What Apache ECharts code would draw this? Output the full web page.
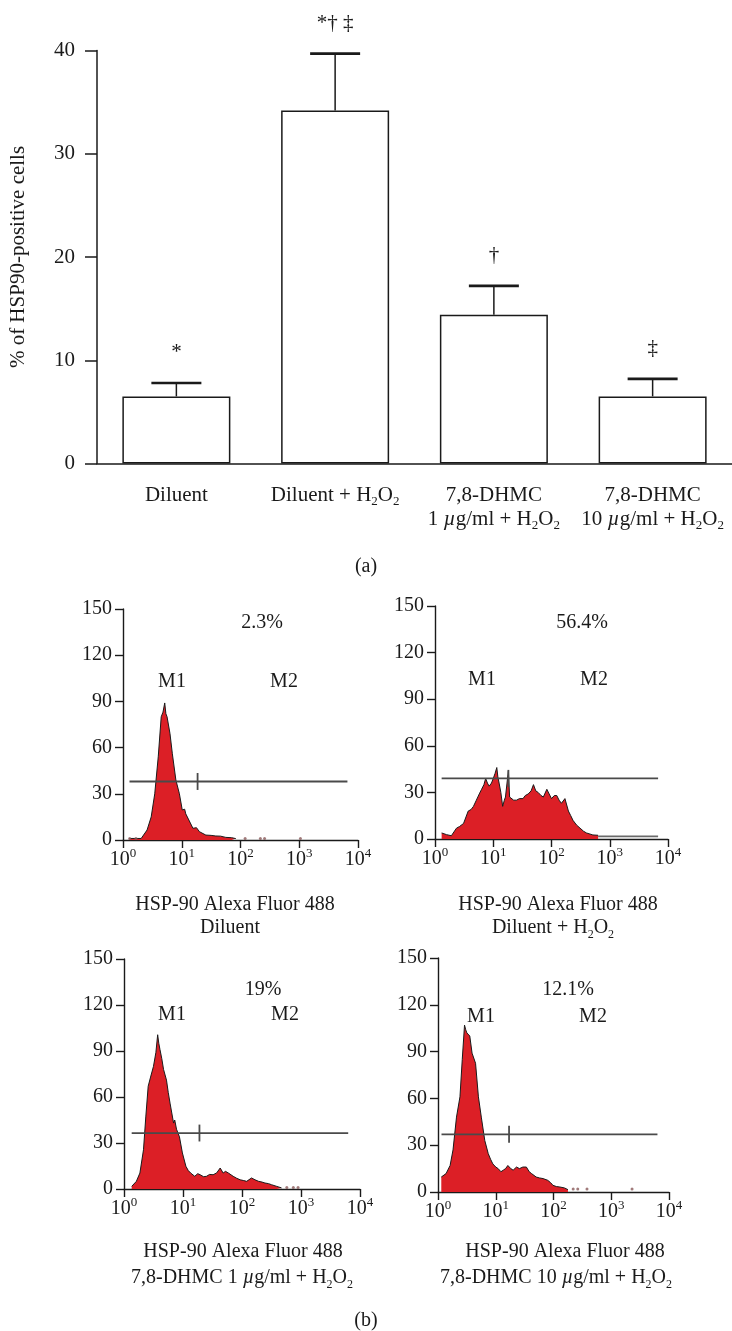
<!DOCTYPE html>
<html><head><meta charset="utf-8">
<script src="https://cdn.jsdelivr.net/npm/echarts@6/dist/echarts.min.js"></script>
<style>html,body{margin:0;padding:0;background:#fff}#c{width:732px;height:1331px}</style>
</head><body><div id="c"></div>
<script>
// ---------- (a) bar chart data ----------
const categories = ['Diluent', 'Diluent + H2O2', '7,8-DHMC\n1 µg/ml + H2O2', '7,8-DHMC\n10 µg/ml + H2O2'];
const meanPct = [6.5, 34.2, 14.4, 6.5];
const errTopPct = [7.8, 39.7, 17.2, 8.2];
const signif = ['*', '*† ‡', '†', '‡'];
const yTicksA = [0, 10, 20, 30, 40];

// ---------- (b) flow histograms: fluorescence intensity / counts ----------
const dilX = [1.29,2.04,2.57,3.02,3.47,3.98,4.47,4.79,5.13,5.37,5.62,6.31,6.92,7.94,9.12,10.2,11.2,11.7,13.2,15.5,17.8,20.0,25.7,31.6,38.0,45.7,56.2,70.8,83.2];
const dilY = [1,1,6.5,15,30,54,80,83,89,82,80,69,56,39,30,19.5,20,17,13,7.6,8,5.4,3.2,3,2.6,2.5,1.7,1.5,0.9];
const dilDotsX = [1.3,1.66,120,218,257,1047];
const dilDotsY = [1,1,1,1,1,1];

const h2X = [1.30,1.58,1.91,2.34,2.63,3.09,3.72,4.17,4.57,5.13,5.75,6.31,6.92,7.41,7.94,8.51,9.33,10.0,10.7,11.5,12.0,12.6,13.5,14.5,15.5,16.2,18.2,19.1,20.0,22.4,25.1,28.2,32.4,35.5,39.8,44.7,49.0,53.7,58.9,66.1,72.4,83.2,91.2,100,112,123,135,148,170,195,214,234,269,309,355,398,513,631];
const h2Y = [3.9,2.8,2.1,7,8,10,18,19,21,25,29,32,35,39,36,34,36,39,42,46,40,36,30,21,25,27,44,27,26,25,25,26,26,28,29,31,35,31,30,28,27,32,29,26,28,28,25,23,26,18,15,12,9,7,5,3.9,2.6,2.4];
const h2TailX = [631, 6760];
const h2TailY = [1.7, 1.7];

const d1X = [1.35,1.62,1.86,2.14,2.34,2.57,2.82,3.16,3.47,3.72,3.89,4.07,4.37,4.68,5.25,5.62,6.03,6.92,7.24,7.76,8.71,9.77,11.2,12.3,13.5,15.8,17.8,19.5,22.4,25.1,28.2,32.4,37.2,42.7,47.9,52.5,58.9,70.8,81.3,93.3,107,120,145,166,191,219,245,282,316,389,468];
const d1Y = [1.7,5,10.4,25.6,47,67,73,80,89,100.6,95,91,85,78,71,63,56,43,45,39,34,23.5,14.8,12,10.4,8.3,10,9.3,8,8.3,9.5,9.3,10.5,13.7,10.4,11.5,10.4,8.3,7,6,5.5,5,7.2,6,5,4.5,3.9,3.5,2.8,1.7,0.7];
const d1DotsX = [575,741,891];
const d1DotsY = [1,1,1];

const d10X = [1.14,1.22,1.38,1.62,1.82,2.09,2.40,2.63,2.88,3.02,3.16,3.55,3.89,4.47,5.01,5.62,6.46,7.41,8.13,8.91,10.0,11.0,12.3,13.5,14.8,16.2,18.2,20.0,22.9,25.7,29.5,33.9,38.0,41.7,50.1,57.5,66.1,79.4,89.1,97.7,112,129,155,178];
const d10Y = [9.6,9.6,11.8,17,27,48,61,85,107,104,102,100,89,82.5,61,48,33,24.6,21,18,16,15,13,14,15,17,15,14,16,15,16,16,13,11.8,9.6,9,8.6,7.5,6,4.3,3.5,3.2,2.6,1.5];
const d10DotsX = [219,263,380,2291];
const d10DotsY = [2,2,2,2];

// gates (M1/M2 bar) per panel: start, end, level, marker position
const gateStart = [1.29, 1.30, 1.35, 1.15];
const gateEnd = [6607, 6760, 6310, 6310];
const gateLevel = [38, 39, 36.5, 37];
const gateMarker = [18.6, 18.2, 19.0, 17.0];
const pctM2 = ['2.3%', '56.4%', '19%', '12.1%'];
const captionTop = ['HSP-90 Alexa Fluor 488', 'HSP-90 Alexa Fluor 488', 'HSP-90 Alexa Fluor 488', 'HSP-90 Alexa Fluor 488'];
const captionBottom = ['Diluent', 'Diluent + H2O2', '7,8-DHMC 1 µg/ml + H2O2', '7,8-DHMC 10 µg/ml + H2O2'];
const yTicksB = [0, 30, 60, 90, 120, 150];
const xTicksB = [1, 10, 100, 1000, 10000];

// ---------- styling helpers ----------
const FONT = "'Liberation Serif','Times New Roman',serif";
const INK = '#1a1a1a';
const RED = '#dc1f26';
function fmt(s) {
  return s.replace(/H2O2/g, 'H{sub|2}O{sub|2}').replace(/µ/g, '{it|µ}');
}
function rich(fs) {
  return {
    sub: { fontSize: Math.round(fs * 0.62), lineHeight: 12, padding: [13, 0, 0, 0], fontFamily: FONT, color: INK },
    sup: { fontSize: Math.round(fs * 0.65), lineHeight: 12, padding: [0, 0, 12, 0], fontFamily: FONT, color: INK },
    it: { fontStyle: 'italic', fontSize: fs, fontFamily: FONT, color: INK }
  };
}
const pair = (xs, ys) => xs.map((x, i) => [x, ys[i]]);

// panel layouts
const panels = [
  { left: 123, top: 609, width: 235, height: 231, x: dilX, y: dilY, dx: dilDotsX, dy: dilDotsY },
  { left: 435, top: 606, width: 233, height: 233, x: h2X, y: h2Y, dx: [], dy: [] },
  { left: 124, top: 959, width: 236, height: 230, x: d1X, y: d1Y, dx: d1DotsX, dy: d1DotsY },
  { left: 438, top: 958, width: 231, height: 234, x: d10X, y: d10Y, dx: d10DotsX, dy: d10DotsY }
];
const textPos = [
  { pct: [262, 623], m1: [172, 682], m2: [284, 682], c1: [235, 905], c2: [230, 928] },
  { pct: [582, 623], m1: [482, 680], m2: [594, 680], c1: [558, 905], c2: [553, 928] },
  { pct: [263, 990], m1: [172, 1015], m2: [285, 1015], c1: [243, 1252], c2: [242, 1278] },
  { pct: [568, 990], m1: [481, 1017], m2: [593, 1017], c1: [565, 1252], c2: [556, 1278] }
];

const grids = [{ left: 96, top: 50.5, width: 648, height: 413 }];
const xAxes = [{
  type: 'category', gridIndex: 0, data: categories,
  axisLine: { lineStyle: { color: INK, width: 1.5 } },
  axisTick: { alignWithLabel: true, length: 12, lineStyle: { color: INK, width: 1.5 } },
  axisLabel: { interval: 0, margin: 20, fontSize: 21, fontFamily: FONT, color: INK, lineHeight: 24,
    hideOverlap: false, formatter: v => fmt(v), rich: rich(21) }
}];
const yAxes = [{
  type: 'value', gridIndex: 0, min: yTicksA[0], max: yTicksA[yTicksA.length - 1], interval: 10,
  name: '% of HSP90-positive cells', nameLocation: 'middle', nameGap: 68,
  nameTextStyle: { fontSize: 21, fontFamily: FONT, color: INK },
  splitLine: { show: false },
  axisLine: { show: true, lineStyle: { color: INK, width: 1.5 } },
  axisTick: { show: true, length: 12, lineStyle: { color: INK, width: 1.5 } },
  axisLabel: { margin: 22, fontSize: 21, fontFamily: FONT, color: INK }
}];
const series = [
  { type: 'bar', xAxisIndex: 0, yAxisIndex: 0, data: meanPct, barWidth: 108,
    itemStyle: { color: '#fff', borderColor: INK, borderWidth: 1.5 }, silent: true },
  { type: 'custom', xAxisIndex: 0, yAxisIndex: 0, silent: true, z: 5,
    data: meanPct.map((m, i) => [i, m, errTopPct[i]]),
    renderItem(params, api) {
      const b = api.coord([api.value(0), api.value(1)]);
      const t = api.coord([api.value(0), api.value(2)]);
      const half = 25;
      return { type: 'group', children: [
        { type: 'line', shape: { x1: b[0], y1: b[1], x2: t[0], y2: t[1] }, style: { stroke: INK, lineWidth: 1.5 } },
        { type: 'line', shape: { x1: t[0] - half, y1: t[1], x2: t[0] + half, y2: t[1] }, style: { stroke: INK, lineWidth: 2.6 } },
        { type: 'text', x: t[0], y: t[1] - 30, style: { text: signif[params.dataIndex], fontSize: 21, fontFamily: FONT, fill: INK, align: 'center', verticalAlign: 'middle' } }
      ] };
    }
  }
];

panels.forEach((p, k) => {
  const gi = k + 1;
  grids.push({ left: p.left, top: p.top, width: p.width, height: p.height });
  xAxes.push({
    type: 'log', logBase: 10, gridIndex: gi, min: xTicksB[0], max: xTicksB[xTicksB.length - 1],
    splitLine: { show: false },
    axisLine: { lineStyle: { color: INK, width: 1.4 } },
    axisTick: { show: true, length: 8, lineStyle: { color: INK, width: 1.4 } },
    minorTick: { show: false },
    axisLabel: { margin: 10, fontSize: 20, fontFamily: FONT, color: INK, showMinLabel: true, showMaxLabel: true,
      formatter: v => '10{sup|' + Math.round(Math.log10(v)) + '}', rich: rich(20) }
  });
  yAxes.push({
    type: 'value', gridIndex: gi, min: yTicksB[0], max: yTicksB[yTicksB.length - 1], interval: 30,
    splitLine: { show: false },
    axisLine: { show: true, lineStyle: { color: INK, width: 1.4 } },
    axisTick: { show: true, length: 8, lineStyle: { color: INK, width: 1.4 } },
    axisLabel: { margin: 11, fontSize: 20, fontFamily: FONT, color: INK }
  });
  series.push({
    type: 'line', xAxisIndex: gi, yAxisIndex: gi, data: pair(p.x, p.y), symbol: 'none', silent: true,
    lineStyle: { color: INK, width: 1 }, areaStyle: { color: RED, opacity: 1 }, z: 2
  });
  if (p.dx.length) {
    series.push({ type: 'scatter', xAxisIndex: gi, yAxisIndex: gi, data: pair(p.dx, p.dy), symbolSize: 3,
      itemStyle: { color: '#8a5a5a' }, silent: true, z: 2 });
  }
  series.push({
    type: 'line', xAxisIndex: gi, yAxisIndex: gi, symbol: 'none', silent: true, z: 3,
    data: [[gateStart[k], gateLevel[k]], [gateEnd[k], gateLevel[k]]],
    lineStyle: { color: '#4a4a4a', width: 1.8 }
  });
  series.push({
    type: 'line', xAxisIndex: gi, yAxisIndex: gi, symbol: 'none', silent: true, z: 3,
    data: [[gateMarker[k], gateLevel[k] - 5.5], [gateMarker[k], gateLevel[k] + 5.5]],
    lineStyle: { color: '#4a4a4a', width: 1.8 }
  });
});
series.push({
  type: 'line', xAxisIndex: 2, yAxisIndex: 2, symbol: 'none', silent: true, z: 3,
  data: pair(h2TailX, h2TailY), lineStyle: { color: '#6a6a6a', width: 1.8 }
});

const graphics = [];
function txt(x, y, s, fs) {
  graphics.push({ type: 'text', x: x, y: y, silent: true,
    style: { text: fmt(s), fontSize: fs, fontFamily: FONT, fill: INK, align: 'center', verticalAlign: 'middle', rich: rich(fs) } });
}
textPos.forEach((t, k) => {
  txt(t.pct[0], t.pct[1], pctM2[k], 20);
  txt(t.m1[0], t.m1[1], 'M1', 20);
  txt(t.m2[0], t.m2[1], 'M2', 20);
  txt(t.c1[0], t.c1[1], captionTop[k], 20);
  txt(t.c2[0], t.c2[1], captionBottom[k], 20);
});
txt(366, 567, '(a)', 20);
txt(366, 1321, '(b)', 20);

const chart = echarts.init(document.getElementById('c'), null, { renderer: 'canvas' });
chart.setOption({
  animation: false, backgroundColor: '#fff',
  grid: grids, xAxis: xAxes, yAxis: yAxes, series: series, graphic: graphics
});
</script></body></html>
